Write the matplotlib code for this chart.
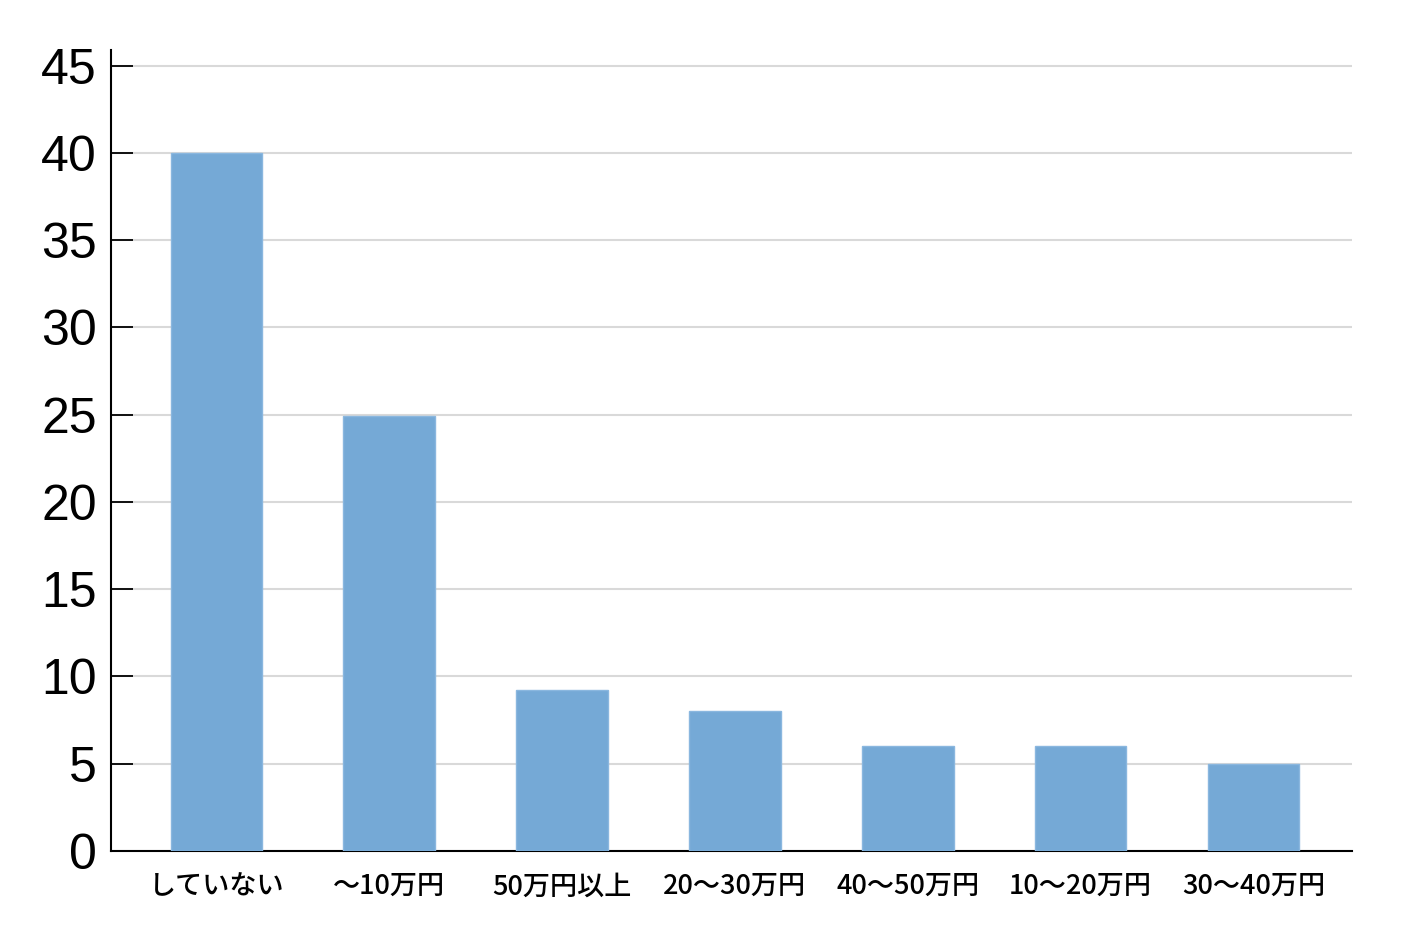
import matplotlib
matplotlib.use("Agg")
import matplotlib.pyplot as plt

categories = ["していない", "～10万円", "50万円以上", "20～30万円", "40～50万円", "10～20万円", "30～40万円"]
values = [40, 24.9, 9.2, 8, 6, 6, 5]
yticks = [0, 5, 10, 15, 20, 25, 30, 35, 40, 45]

fig = plt.figure(figsize=(14.12, 9.43), dpi=100)
ax = fig.add_axes([0.0786, 0.0976, 0.8789, 0.8494])

ax.bar(range(len(values)), values, width=0.53, color="#75a9d6",
       edgecolor="#8ab7df", linewidth=1, zorder=3)

ax.set_xlim(-0.61, 6.57)
ax.set_ylim(0, 45.9)
ax.set_yticks(yticks)
ax.set_yticklabels([str(t) for t in yticks], fontsize=36, family=["Liberation Sans", "DejaVu Sans"])
ax.set_xticks(range(len(categories)))
ax.set_xticklabels(categories, fontsize=19.5, fontweight="medium",
                   family=["Noto Sans CJK JP", "DejaVu Sans"])

ax.yaxis.grid(True, color="#d9d9d9", linewidth=1.5, zorder=0)
ax.set_axisbelow(True)
ax.tick_params(axis="y", direction="in", length=16, width=1.3, pad=10)
ax.tick_params(axis="x", length=0, pad=16)

for s in ["top", "right"]:
    ax.spines[s].set_visible(False)
for s in ["left", "bottom"]:
    ax.spines[s].set_linewidth(1.5)

fig.savefig("out.png", dpi=100)
